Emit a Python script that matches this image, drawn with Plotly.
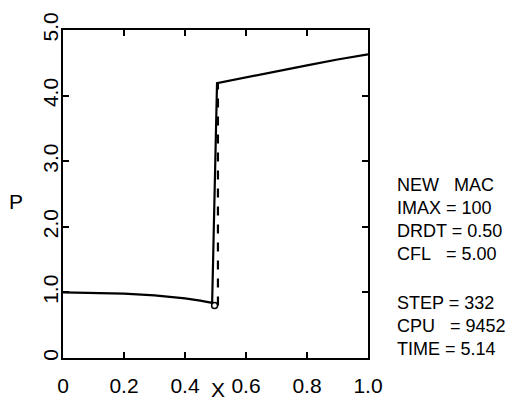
import plotly.graph_objects as go

# Numerical solution (solid)
x_num = [0.0, 0.1, 0.2, 0.3, 0.4, 0.45, 0.489, 0.505, 0.6, 0.7, 0.8, 0.9, 1.0]
p_num = [1.00, 0.995, 0.98, 0.955, 0.91, 0.875, 0.84, 4.19, 4.28, 4.37, 4.46, 4.55, 4.63]

# Exact shock (dashed)
x_exact = [0.508, 0.508]
p_exact = [0.80, 4.19]

# Marker at shock foot
x_mark = [0.497]
p_mark = [0.80]

x_ticks = [0, 0.2, 0.4, 0.6, 0.8, 1.0]
x_ticktext = ["0", "0.2", "0.4", "0.6", "0.8", "1.0"]
y_ticks = [0, 1, 2, 3, 4, 5]
y_ticktext = ["0", "1.0", "2.0", "3.0", "4.0", "5.0"]

info_lines = ["NEW&nbsp;&nbsp;&nbsp;MAC", "IMAX = 100", "DRDT = 0.50", "CFL&nbsp;&nbsp;&nbsp;= 5.00",
              "STEP = 332", "CPU&nbsp;&nbsp;&nbsp;= 9452", "TIME = 5.14"]
info_py = [182, 207, 232, 256, 308, 333, 357]  # pixel centres of each line

FONT = "Liberation Sans"
L, R, T, B = 63, 161, 17, 42
W, H = 529, 409
PW, PH = W - L - R, H - T - B

fig = go.Figure()
fig.add_trace(go.Scatter(x=x_num, y=p_num, mode="lines",
                         line=dict(color="black", width=2.2), showlegend=False))
fig.add_trace(go.Scatter(x=x_exact, y=p_exact, mode="lines",
                         line=dict(color="black", width=2.2, dash="dash"), showlegend=False))
fig.add_trace(go.Scatter(x=x_mark, y=p_mark, mode="markers",
                         marker=dict(symbol="circle-open", size=6, color="black",
                                     line=dict(width=1.5, color="black")), showlegend=False))

for t, py in zip(info_lines, info_py):
    fig.add_annotation(x=(395 - L) / PW, y=(H - B - py) / PH, xref="paper", yref="paper",
                       text=t, showarrow=False, xanchor="left", yanchor="middle",
                       font=dict(family=FONT, size=18, color="black"))

fig.add_annotation(x=(218 - L) / PW, y=(H - B - 401) / PH, xref="paper", yref="paper",
                   text="X", showarrow=False, xanchor="center", yanchor="middle",
                   font=dict(family=FONT, size=21, color="black"))
fig.add_annotation(x=(16 - L) / PW, y=(H - B - 200) / PH, xref="paper", yref="paper",
                   text="P", showarrow=False, xanchor="center", yanchor="middle",
                   font=dict(family=FONT, size=21, color="black"))

fig.update_layout(
    width=W, height=H,
    margin=dict(l=L, r=R, t=T, b=B),
    paper_bgcolor="white", plot_bgcolor="white",
    font=dict(family=FONT, size=21, color="black"),
    xaxis=dict(range=[0, 1.0], tickvals=x_ticks, ticktext=x_ticktext,
               ticks="inside", ticklen=6, tickwidth=1.5, tickcolor="black",
               showline=True, linecolor="black", linewidth=1.5, mirror="ticks",
               showgrid=False, zeroline=False, ticklabelstandoff=8),
    yaxis=dict(range=[0, 5.0], tickvals=y_ticks, ticktext=y_ticktext,
               ticks="inside", ticklen=6, tickwidth=1.5, tickcolor="black",
               showline=True, linecolor="black", linewidth=1.5, mirror="ticks",
               showgrid=False, zeroline=False, tickangle=-90, ticklabelstandoff=-5,
               ticklabeloverflow="allow"),
)

fig.write_html("out.html")
